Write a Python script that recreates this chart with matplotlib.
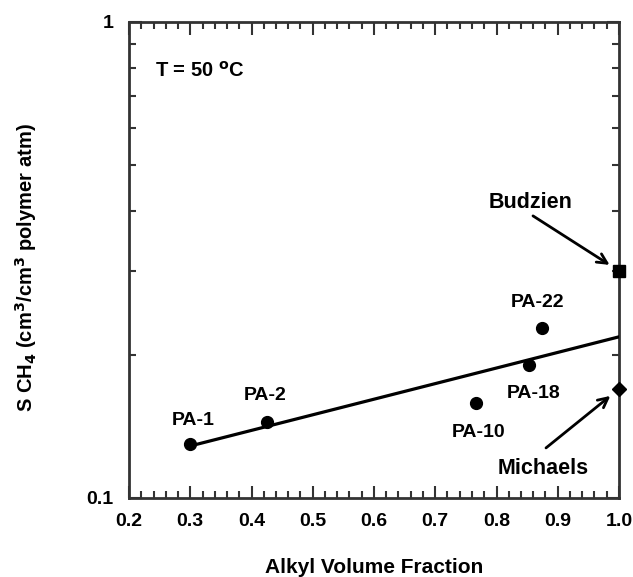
import numpy as np
import matplotlib
matplotlib.use('Agg')
import matplotlib.pyplot as plt
from matplotlib.ticker import MultipleLocator, FixedLocator, NullFormatter

plt.rcParams['font.family'] = ['Liberation Sans', 'DejaVu Sans']
plt.rcParams['font.weight'] = 'bold'

# polyamide data (alkyl volume fraction, methane solubility)
names = ['PA-1', 'PA-2', 'PA-10', 'PA-18', 'PA-22']
alkyl = [0.30, 0.425, 0.766, 0.853, 0.875]
s_ch4 = [0.130, 0.1445, 0.1585, 0.190, 0.2275]

# literature values for polyethylene
budzien_x, budzien_y = 1.0, 0.30
michaels_x, michaels_y = 1.0, 0.1695

# label offsets in pixels, relative to each point
offsets = [(3, 23), (-2, 26), (3, -30), (5, -28), (-5, 26)]

fig = plt.figure(figsize=(6.33, 5.77), dpi=100)
ax = fig.add_axes([129 / 633, 1 - 498 / 577, 490 / 633, 476 / 577])

# log-linear fit through the PA points
p = np.polyfit(alkyl, np.log10(s_ch4), 1)
xf = np.array([0.30, 1.0])
ax.plot(xf, 10 ** np.polyval(p, xf), color='k', lw=2.3, zorder=3)

ax.plot(alkyl, s_ch4, 'o', color='k', ms=8.5, zorder=4)
ax.plot(budzien_x, budzien_y, 's', color='k', ms=8.5, clip_on=False, zorder=5)
ax.plot(michaels_x, michaels_y, 'D', color='k', ms=7.5, clip_on=False, zorder=5)

for n, x, y, off in zip(names, alkyl, s_ch4, offsets):
    ax.annotate(n, (x, y), xytext=off, textcoords='offset pixels',
                ha='center', va='center', fontsize=14, fontweight='bold')

arrow = dict(arrowstyle='->,head_length=0.7,head_width=0.35', lw=2, color='k',
             shrinkA=0, shrinkB=8)
ax.annotate('', (budzien_x, budzien_y), xytext=(-86, 55), textcoords='offset pixels',
            arrowprops=arrow, annotation_clip=False)
ax.annotate('Budzien', (budzien_x, budzien_y), xytext=(-88, 68), textcoords='offset pixels',
            ha='center', va='center', fontsize=15.5, fontweight='bold', annotation_clip=False)
ax.annotate('', (michaels_x, michaels_y), xytext=(-73, -59), textcoords='offset pixels',
            arrowprops=arrow, annotation_clip=False)
ax.annotate('Michaels', (michaels_x, michaels_y), xytext=(-76, -80), textcoords='offset pixels',
            ha='center', va='center', fontsize=15.5, fontweight='bold', annotation_clip=False)

ax.text(0.053, 0.898, r'T = 50 $^{\mathbf{o}}$C', transform=ax.transAxes,
        ha='left', va='center', fontsize=14.5, fontweight='bold')

ax.set_yscale('log')
ax.set_xlim(0.2, 1.0)
ax.set_ylim(0.1, 1)
ax.set_xticks(np.arange(0.2, 1.01, 0.1))
ax.set_xticklabels(['0.2', '0.3', '0.4', '0.5', '0.6', '0.7', '0.8', '0.9', '1.0'])
ax.xaxis.set_minor_locator(MultipleLocator(0.02))
ax.yaxis.set_major_locator(FixedLocator([0.1, 1]))
ax.set_yticklabels(['0.1', '1'])
ax.yaxis.set_minor_locator(FixedLocator(np.arange(0.2, 1.0, 0.1)))
ax.yaxis.set_minor_formatter(NullFormatter())

ax.tick_params(which='both', direction='in', top=True, right=True, color='#333333',
               labelsize=14, pad=11, width=1.5)
ax.tick_params(which='major', length=9)
ax.tick_params(which='minor', length=5)
for lab in ax.get_xticklabels() + ax.get_yticklabels():
    lab.set_fontweight('bold')
for sp in ax.spines.values():
    sp.set_color('#333333')
    sp.set_linewidth(2)

ax.set_xlabel('Alkyl Volume Fraction', fontsize=15, fontweight='bold', va='center')
ax.xaxis.set_label_coords(0.5, -0.145)
ax.set_ylabel(r'S CH$_{\mathbf{4}}$ (cm$^{\mathbf{3}}$/cm$^{\mathbf{3}}$ polymer atm)',
              fontsize=14.5, fontweight='bold', va='center')
ax.yaxis.set_label_coords(-0.21, 0.484)

fig.savefig('out.png', dpi=100)
